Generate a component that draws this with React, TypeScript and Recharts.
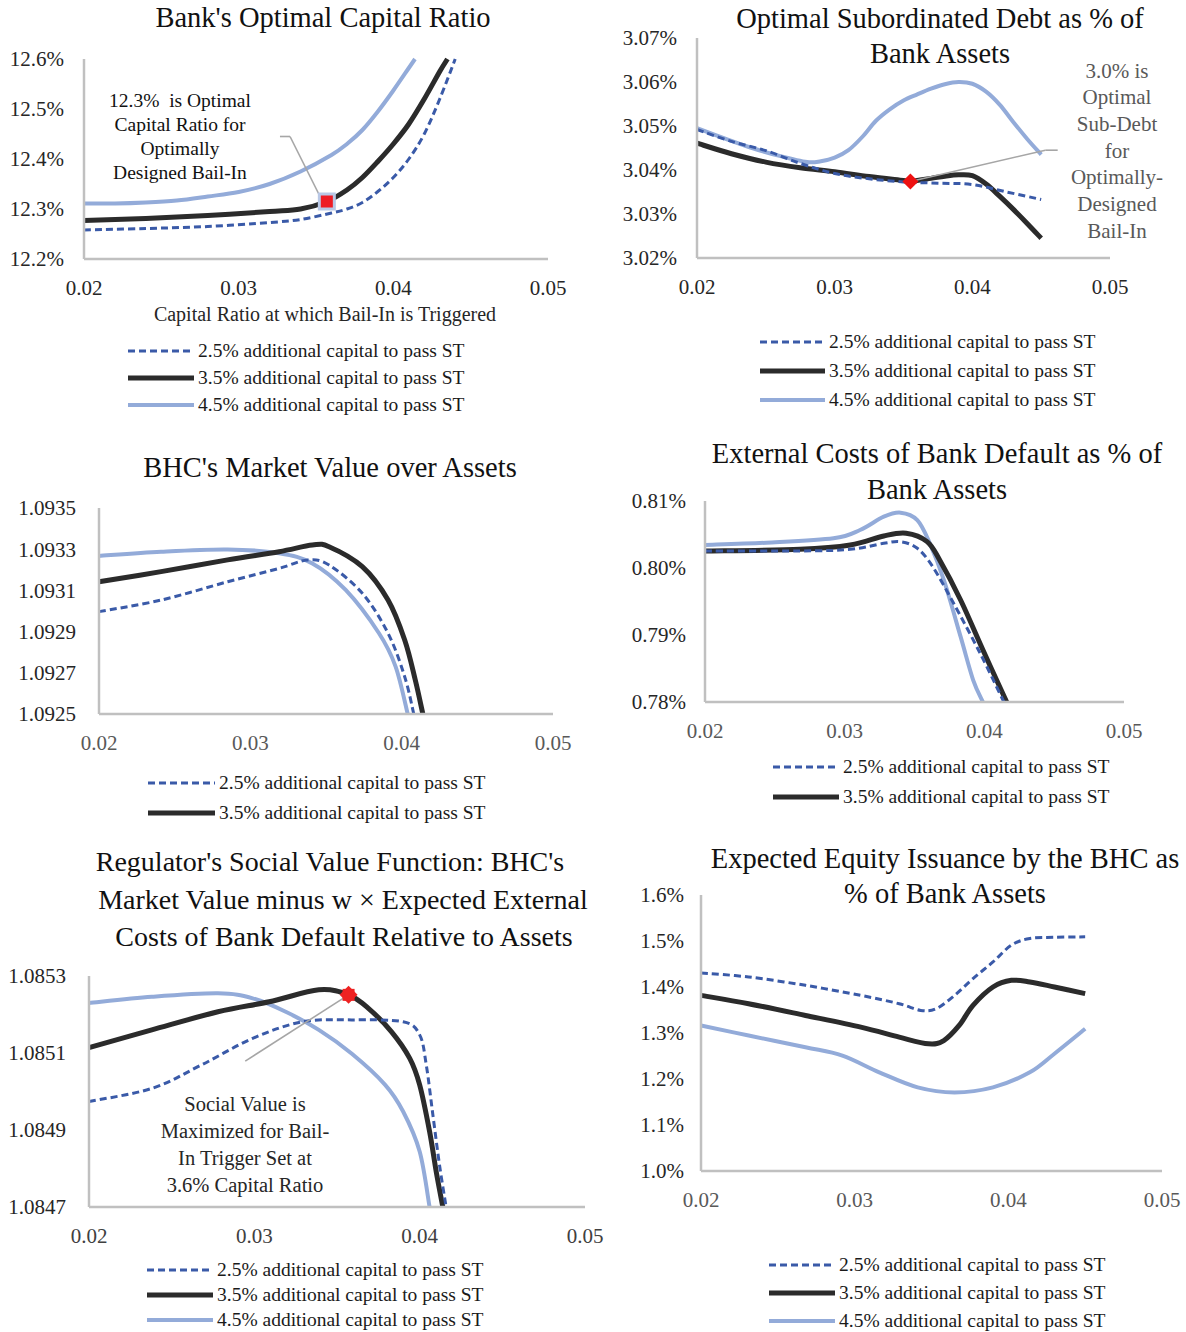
import React from 'react';
import { LineChart, Line, XAxis, YAxis, ReferenceDot, ReferenceLine } from 'recharts';

const FONT = '"Liberation Serif", "DejaVu Serif", serif';
const LEGEND_LABELS = [
  '2.5% additional capital to pass ST',
  '3.5% additional capital to pass ST',
  '4.5% additional capital to pass ST',
];
const X_TICKS = [0.02, 0.03, 0.04, 0.05];

// Panel 1: Bank's Optimal Capital Ratio (%)
const p1x25 = [0.02, 0.024, 0.028, 0.032, 0.034, 0.036, 0.037, 0.038, 0.039, 0.04, 0.041, 0.042, 0.043, 0.044];
const p1y25 = [12.258, 12.261, 12.265, 12.273, 12.279, 12.292, 12.3, 12.313, 12.335, 12.363, 12.4, 12.45, 12.52, 12.6];
const p1x35 = [0.02, 0.024, 0.028, 0.032, 0.034, 0.0357, 0.037, 0.038, 0.039, 0.04, 0.041, 0.042, 0.043, 0.0435];
const p1y35 = [12.277, 12.281, 12.287, 12.295, 12.3, 12.315, 12.338, 12.363, 12.395, 12.43, 12.47, 12.52, 12.575, 12.6];
const p1x45 = [0.02, 0.022, 0.024, 0.026, 0.028, 0.03, 0.032, 0.034, 0.036, 0.037, 0.038, 0.039, 0.04, 0.041, 0.0414];
const p1y45 = [12.311, 12.311, 12.313, 12.317, 12.325, 12.334, 12.35, 12.375, 12.408, 12.43, 12.458, 12.495, 12.537, 12.582, 12.6];
const p1Ticks = [12.2, 12.3, 12.4, 12.5, 12.6];

// Panel 2: Optimal Subordinated Debt (%)
const p2x25 = [0.02, 0.0225, 0.025, 0.0275, 0.03, 0.0325, 0.035, 0.0375, 0.04, 0.0425, 0.045];
const p2y25 = [3.0492, 3.0465, 3.0444, 3.0415, 3.0392, 3.038, 3.0373, 3.037, 3.0367, 3.035, 3.0333];
const p2x35 = [0.02, 0.0225, 0.025, 0.0275, 0.03, 0.0325, 0.035, 0.0355, 0.037, 0.038, 0.039, 0.04, 0.041, 0.042, 0.043, 0.044, 0.045];
const p2y35 = [3.0461, 3.0437, 3.0418, 3.0405, 3.0396, 3.0385, 3.0376, 3.0374, 3.0381, 3.0386, 3.0389, 3.0387, 3.0368, 3.034, 3.031, 3.0278, 3.0245];
const p2x45 = [0.02, 0.022, 0.024, 0.026, 0.028, 0.029, 0.03, 0.031, 0.032, 0.033, 0.034, 0.035, 0.036, 0.037, 0.038, 0.039, 0.04, 0.041, 0.042, 0.043, 0.044, 0.045];
const p2y45 = [3.0495, 3.0472, 3.045, 3.0432, 3.0418, 3.042, 3.0428, 3.0445, 3.0475, 3.0512, 3.0538, 3.0558, 3.0572, 3.0585, 3.0595, 3.06, 3.0596, 3.0578, 3.0548, 3.0508, 3.047, 3.0435];
const p2Ticks = [3.02, 3.03, 3.04, 3.05, 3.06, 3.07];

// Panel 3: BHC's Market Value over Assets
const p3x25 = [0.02, 0.0241, 0.0285, 0.0319, 0.0338, 0.0352, 0.0374, 0.0391, 0.0402, 0.0408];
const p3y25 = [1.092997, 1.093053, 1.093142, 1.093207, 1.093248, 1.093223, 1.093086, 1.092892, 1.092681, 1.0925];
const p3x35 = [0.02, 0.0241, 0.0285, 0.0319, 0.0341, 0.0352, 0.0374, 0.0391, 0.0402, 0.0409, 0.0414];
const p3y35 = [1.093142, 1.093191, 1.093248, 1.093288, 1.09332, 1.093312, 1.093215, 1.093053, 1.092859, 1.092665, 1.0925];
const p3x45 = [0.02, 0.0241, 0.0285, 0.0319, 0.0341, 0.0363, 0.0385, 0.0396, 0.0404];
const p3y45 = [1.093267, 1.093288, 1.093299, 1.09328, 1.093231, 1.093102, 1.092892, 1.09273, 1.0925];
const p3Ticks = [1.0925, 1.0927, 1.0929, 1.0931, 1.0933, 1.0935];

// Panel 4: External Costs of Bank Default (%)
const p4x25 = [0.02, 0.0268, 0.0304, 0.0328, 0.034, 0.0352, 0.0363, 0.0378, 0.0397, 0.0414];
const p4y25 = [0.80254, 0.80254, 0.80279, 0.80368, 0.80393, 0.80294, 0.8002, 0.79473, 0.78727, 0.78];
const p4x35 = [0.02, 0.0268, 0.0304, 0.0328, 0.0344, 0.0359, 0.0368, 0.0383, 0.0399, 0.0416];
const p4y35 = [0.80254, 0.80279, 0.80343, 0.80478, 0.80518, 0.80393, 0.80119, 0.79522, 0.78776, 0.78];
const p4x45 = [0.02, 0.0244, 0.0292, 0.0311, 0.0328, 0.034, 0.0352, 0.0361, 0.0371, 0.0383, 0.0392, 0.0399];
const p4y45 = [0.80343, 0.80378, 0.80443, 0.80567, 0.80766, 0.80826, 0.80716, 0.80368, 0.79821, 0.78975, 0.78328, 0.78];
const p4Ticks = [0.78, 0.79, 0.8, 0.81];

// Panel 5: Regulator's Social Value Function
const p5x25 = [0.02, 0.0238, 0.0268, 0.0299, 0.0329, 0.0359, 0.039, 0.04, 0.0404, 0.0408, 0.0412, 0.0416];
const p5y25 = [1.084974, 1.085008, 1.085069, 1.085138, 1.085181, 1.085186, 1.085181, 1.085147, 1.085069, 1.084939, 1.084809, 1.0847];
const p5x35 = [0.02, 0.0238, 0.0278, 0.0309, 0.0339, 0.0357, 0.0369, 0.0383, 0.0394, 0.04, 0.0406, 0.041, 0.0414];
const p5y35 = [1.085114, 1.08516, 1.085207, 1.085233, 1.085264, 1.085251, 1.085216, 1.085155, 1.085086, 1.085017, 1.084896, 1.084792, 1.0847];
const p5x45 = [0.02, 0.0238, 0.0278, 0.0299, 0.0319, 0.0339, 0.0359, 0.0379, 0.039, 0.04, 0.0406];
const p5y45 = [1.08523, 1.085246, 1.085255, 1.085242, 1.085207, 1.08516, 1.085098, 1.085018, 1.084948, 1.084844, 1.0847];
const p5Ticks = [1.0847, 1.0849, 1.0851, 1.0853];

// Panel 6: Expected Equity Issuance (%)
const p6x25 = [0.02, 0.0231, 0.0268, 0.0304, 0.0329, 0.0343, 0.0353, 0.0365, 0.0377, 0.039, 0.0402, 0.0414, 0.043, 0.045];
const p6y25 = [1.4305, 1.4218, 1.4036, 1.3818, 1.3636, 1.3491, 1.3527, 1.3818, 1.4182, 1.4545, 1.4909, 1.5055, 1.508, 1.5091];
const p6x35 = [0.02, 0.0231, 0.0268, 0.0304, 0.0329, 0.0348, 0.0358, 0.0368, 0.0377, 0.039, 0.0402, 0.0414, 0.043, 0.045];
const p6y35 = [1.3818, 1.3636, 1.3382, 1.3127, 1.2909, 1.2764, 1.2836, 1.3164, 1.36, 1.4, 1.4145, 1.4109, 1.4, 1.3855];
const p6x45 = [0.02, 0.0231, 0.0268, 0.0292, 0.0316, 0.0341, 0.0365, 0.039, 0.0414, 0.043, 0.045];
const p6y45 = [1.3164, 1.2945, 1.2691, 1.2509, 1.2145, 1.1818, 1.1709, 1.1818, 1.2145, 1.255, 1.3091];
const p6Ticks = [1.0, 1.1, 1.2, 1.3, 1.4, 1.5, 1.6];

// Annotated optimum points and leader lines (data coordinates)
const p1Opt = { x: 0.0357, y: 12.315 };
const p1Leader = [{ x: 0.03267, y: 12.445 }, { x: 0.03332, y: 12.445 }, { x: 0.03526, y: 12.325 }];
const p2Opt = { x: 0.0355, y: 3.0374 };
const p2Leader = [{ x: 0.0355, y: 3.0374 }, { x: 0.0453, y: 3.0445 }, { x: 0.0462, y: 3.0445 }];
const p5Opt = { x: 0.0357, y: 1.085251 };
const p5Leader = [{ x: 0.02945, y: 1.085079 }, { x: 0.0357, y: 1.085251 }];

const zip = (xs: number[], ys: number[]) => xs.map((x, i) => ({ x, y: ys[i] }));

// Excel-like smoothed line (Catmull-Rom through every point)
function smoothCurve(context: any) {
  let pts: number[][] = [];
  return {
    areaStart() {},
    areaEnd() {},
    lineStart() { pts = []; },
    point(x: number, y: number) { pts.push([+x, +y]); },
    lineEnd() {
      if (!pts.length) return;
      context.moveTo(pts[0][0], pts[0][1]);
      for (let i = 0; i < pts.length - 1; i++) {
        const p0 = pts[i - 1] || pts[i];
        const p1 = pts[i];
        const p2 = pts[i + 1];
        const p3 = pts[i + 2] || p2;
        const t = 1 / 6;
        context.bezierCurveTo(
          p1[0] + (p2[0] - p0[0]) * t, p1[1] + (p2[1] - p0[1]) * t,
          p2[0] - (p3[0] - p1[0]) * t, p2[1] - (p3[1] - p1[1]) * t,
          p2[0], p2[1],
        );
      }
    },
  };
}

const STYLES: Record<string, any> = {
  s25: { stroke: '#3a5aa8', strokeWidth: 3, strokeDasharray: '7 4' },
  s35: { stroke: '#2b2b2b', strokeWidth: 5 },
  s45: { stroke: '#93abd9', strokeWidth: 4 },
};

type Series = { id: string; xs: number[]; ys: number[]; style: string };

function Panel(props: {
  x0: number; x1: number; y0: number; y1: number;
  yDomain: [number, number]; yTicks: number[]; yFmt: (v: number) => string;
  yGap: number; series: Series[]; xTickColor: string; children?: React.ReactNode;
}) {
  const { x0, x1, y0, y1 } = props;
  const padL = 110, padT = 30, padR = 40, padB = 50;
  const W = x1 - x0 + padL + padR;
  const H = y1 - y0 + padT + padB;
  const axisLine = { stroke: '#c0c0c0', strokeWidth: 2.5 };
  return (
    <div style={{ position: 'absolute', left: x0 - padL, top: y0 - padT }}>
      <LineChart width={W} height={H} margin={{ top: padT, right: padR, bottom: 0, left: 0 }}>
        <XAxis
          dataKey="x" type="number" domain={[0.02, 0.05]} ticks={X_TICKS} interval={0}
          tickFormatter={(v: number) => v.toFixed(2)} axisLine={axisLine} tickLine={false}
          tickSize={0} tickMargin={21} height={padB}
          tick={{ fontSize: 21, fill: props.xTickColor, fontFamily: FONT }}
        />
        <YAxis
          type="number" domain={props.yDomain} ticks={props.yTicks} interval={0}
          tickFormatter={props.yFmt} axisLine={axisLine} tickLine={false}
          tickSize={0} tickMargin={props.yGap} width={padL}
          tick={{ fontSize: 21, fill: '#262626', fontFamily: FONT }}
        />
        {props.series.map((s) => (
          <Line
            key={s.id} data={zip(s.xs, s.ys)} dataKey="y" type={smoothCurve as any} dot={false}
            activeDot={false} isAnimationActive={false} {...STYLES[s.style]}
          />
        ))}
        {props.children}
      </LineChart>
    </div>
  );
}

function Txt(p: { cx: number; cy: number; lines: string[]; size: number; lh: number; color?: string }) {
  return (
    <div
      style={{
        position: 'absolute', left: p.cx - 400, width: 800, top: p.cy - p.lh / 2,
        textAlign: 'center', fontSize: p.size, lineHeight: p.lh + 'px', color: p.color || '#111',
        fontFamily: FONT, whiteSpace: 'pre',
      }}
    >
      {p.lines.map((l, i) => (<div key={i}>{l}</div>))}
    </div>
  );
}

function LegendBlock(p: { left: number; textLeft: number; ys: number[]; count: number }) {
  const w = p.textLeft - p.left - 4;
  const keys = ['s25', 's35', 's45'];
  return (
    <>
      {p.ys.slice(0, p.count).map((cy, i) => {
        const st = STYLES[keys[i]];
        return (
          <div key={i}>
            <svg style={{ position: 'absolute', left: p.left, top: cy - 5 }} width={w} height={10}>
              <line x1={0} y1={5} x2={w} y2={5} stroke={st.stroke} strokeWidth={st.strokeWidth}
                strokeDasharray={st.strokeDasharray} />
            </svg>
            <div style={{ position: 'absolute', left: p.textLeft, top: cy - 13, fontSize: 19.5, lineHeight: '26px',
              fontFamily: FONT, color: '#1a1a1a', whiteSpace: 'nowrap' }}>
              {LEGEND_LABELS[i]}
            </div>
          </div>
        );
      })}
    </>
  );
}

const leaderProps = { stroke: '#a6a6a6', strokeWidth: 1.6, ifOverflow: 'visible' as const };

const SquareMarker = (props: any) => (
  <g>
    <rect x={props.cx - 9} y={props.cy - 9} width={18} height={18} fill="#b9c8e6" />
    <rect x={props.cx - 6} y={props.cy - 6} width={12} height={12} fill="#ee1c25" />
  </g>
);
const DiamondMarker = (props: any) => (
  <path d={`M${props.cx},${props.cy - 8} L${props.cx + 8},${props.cy} L${props.cx},${props.cy + 8} L${props.cx - 8},${props.cy} Z`} fill="#ee1111" />
);
const StarMarker = (props: any) => (
  <g fill="#ee2222">
    <rect x={props.cx - 6} y={props.cy - 6} width={12} height={12} />
    <path d={`M${props.cx},${props.cy - 9} L${props.cx + 9},${props.cy} L${props.cx},${props.cy + 9} L${props.cx - 9},${props.cy} Z`} />
  </g>
);

export default function App() {
  const pct1 = (v: number) => v.toFixed(1) + '%';
  const pct2 = (v: number) => v.toFixed(2) + '%';
  const dec4 = (v: number) => v.toFixed(4);
  return (
    <div style={{ position: 'absolute', left: 0, top: 0, width: 1186, height: 1332, background: '#fff', overflow: 'hidden', fontFamily: FONT }}>
      {/* Panel 1 */}
      <Txt cx={323} cy={18} lines={["Bank's Optimal Capital Ratio"]} size={28.5} lh={36} />
      <Panel x0={84} x1={548} y0={59} y1={259} yDomain={[12.2, 12.6]} yTicks={p1Ticks} yFmt={pct1} yGap={20}
        xTickColor="#262626"
        series={[
          { id: 'a', xs: p1x45, ys: p1y45, style: 's45' },
          { id: 'b', xs: p1x35, ys: p1y35, style: 's35' },
          { id: 'c', xs: p1x25, ys: p1y25, style: 's25' },
        ]}>
        <ReferenceLine segment={[p1Leader[0], p1Leader[1]]} {...leaderProps} />
        <ReferenceLine segment={[p1Leader[1], p1Leader[2]]} {...leaderProps} />
        <ReferenceDot x={p1Opt.x} y={p1Opt.y} r={6} shape={SquareMarker} />
      </Panel>
      <Txt cx={180} cy={101} lines={['12.3%  is Optimal', 'Capital Ratio for', 'Optimally', 'Designed Bail-In']} size={19.5} lh={24} />
      <Txt cx={325} cy={314} lines={['Capital Ratio at which Bail-In is Triggered']} size={20} lh={24} color="#262626" />
      <LegendBlock left={128} textLeft={198} ys={[351, 378, 405]} count={3} />

      {/* Panel 2 */}
      <Txt cx={940} cy={18} lines={['Optimal Subordinated Debt as % of', 'Bank Assets']} size={28.5} lh={35} />
      <Panel x0={697} x1={1110} y0={38} y1={258} yDomain={[3.02, 3.07]} yTicks={p2Ticks} yFmt={pct2} yGap={20}
        xTickColor="#262626"
        series={[
          { id: 'a', xs: p2x45, ys: p2y45, style: 's45' },
          { id: 'b', xs: p2x35, ys: p2y35, style: 's35' },
          { id: 'c', xs: p2x25, ys: p2y25, style: 's25' },
        ]}>
        <ReferenceLine segment={[p2Leader[0], p2Leader[1]]} {...leaderProps} />
        <ReferenceLine segment={[p2Leader[1], p2Leader[2]]} {...leaderProps} />
        <ReferenceDot x={p2Opt.x} y={p2Opt.y} r={6} shape={DiamondMarker} />
      </Panel>
      <Txt cx={1117} cy={71} lines={['3.0% is', 'Optimal', 'Sub-Debt', 'for', 'Optimally-', 'Designed', 'Bail-In']} size={21} lh={26.7} color="#595959" />
      <LegendBlock left={760} textLeft={829} ys={[342, 371, 400]} count={3} />

      {/* Panel 3 */}
      <Txt cx={330} cy={468} lines={["BHC's Market Value over Assets"]} size={28.5} lh={36} />
      <Panel x0={99} x1={553} y0={508} y1={714} yDomain={[1.0925, 1.0935]} yTicks={p3Ticks} yFmt={dec4} yGap={23}
        xTickColor="#595959"
        series={[
          { id: 'a', xs: p3x45, ys: p3y45, style: 's45' },
          { id: 'b', xs: p3x35, ys: p3y35, style: 's35' },
          { id: 'c', xs: p3x25, ys: p3y25, style: 's25' },
        ]} />
      <LegendBlock left={148} textLeft={219} ys={[783, 813]} count={2} />

      {/* Panel 4 */}
      <Txt cx={937} cy={454} lines={['External Costs of Bank Default as % of', 'Bank Assets']} size={28.5} lh={36} />
      <Panel x0={705} x1={1124} y0={501} y1={702} yDomain={[0.78, 0.81]} yTicks={p4Ticks} yFmt={pct2} yGap={19}
        xTickColor="#595959"
        series={[
          { id: 'a', xs: p4x45, ys: p4y45, style: 's45' },
          { id: 'b', xs: p4x35, ys: p4y35, style: 's35' },
          { id: 'c', xs: p4x25, ys: p4y25, style: 's25' },
        ]} />
      <LegendBlock left={773} textLeft={843} ys={[767, 797]} count={2} />

      {/* Panel 5 */}
      <Txt cx={330} cy={862} lines={["Regulator's Social Value Function: BHC's"]} size={28} lh={36} />
      <Txt cx={343} cy={900} lines={['Market Value minus w \u00d7 Expected External']} size={28} lh={36} />
      <Txt cx={344} cy={937} lines={['Costs of Bank Default Relative to Assets']} size={28} lh={36} />
      <Panel x0={89} x1={585} y0={976} y1={1207} yDomain={[1.0847, 1.0853]} yTicks={p5Ticks} yFmt={dec4} yGap={23}
        xTickColor="#404040"
        series={[
          { id: 'a', xs: p5x45, ys: p5y45, style: 's45' },
          { id: 'b', xs: p5x35, ys: p5y35, style: 's35' },
          { id: 'c', xs: p5x25, ys: p5y25, style: 's25' },
        ]}>
        <ReferenceLine segment={[p5Leader[0], p5Leader[1]]} {...leaderProps} />
        <ReferenceDot x={p5Opt.x} y={p5Opt.y} r={6} shape={StarMarker} />
      </Panel>
      <Txt cx={245} cy={1104} lines={['Social Value is', 'Maximized for Bail-', 'In Trigger Set at', '3.6% Capital Ratio']} size={20.5} lh={27} color="#262626" />
      <LegendBlock left={147} textLeft={217} ys={[1270, 1295, 1320]} count={3} />

      {/* Panel 6 */}
      <Txt cx={945} cy={858} lines={['Expected Equity Issuance by the BHC as', '% of Bank Assets']} size={28.5} lh={35} />
      <Panel x0={701} x1={1162} y0={895} y1={1171} yDomain={[1.0, 1.6]} yTicks={p6Ticks} yFmt={pct1} yGap={17}
        xTickColor="#595959"
        series={[
          { id: 'a', xs: p6x45, ys: p6y45, style: 's45' },
          { id: 'b', xs: p6x35, ys: p6y35, style: 's35' },
          { id: 'c', xs: p6x25, ys: p6y25, style: 's25' },
        ]} />
      <LegendBlock left={769} textLeft={839} ys={[1265, 1293, 1321]} count={3} />
    </div>
  );
}
